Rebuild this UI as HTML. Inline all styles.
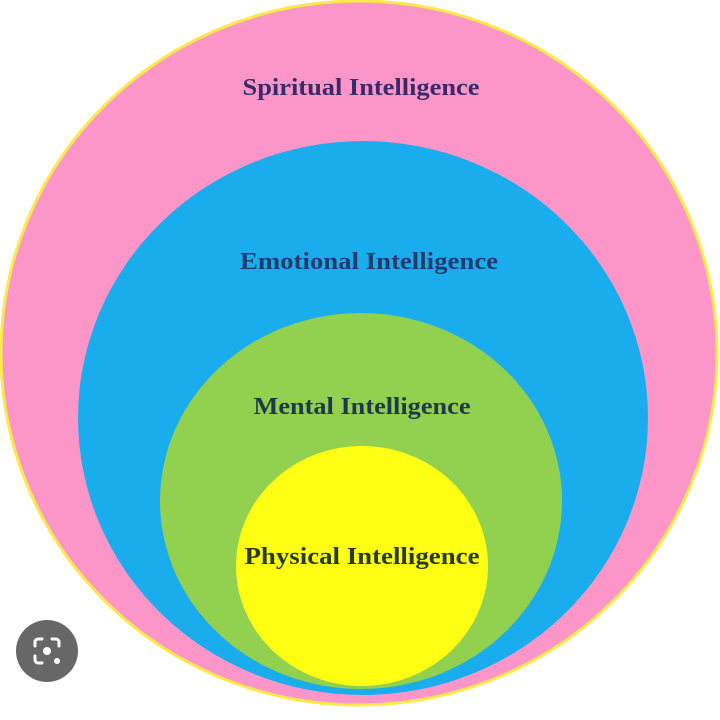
<!DOCTYPE html>
<html><head><style>
html,body{margin:0;padding:0;background:#fff;width:720px;height:720px;overflow:hidden}
</style></head><body>
<svg width="720" height="720" viewBox="0 0 720 720" xmlns="http://www.w3.org/2000/svg">
<ellipse cx="359" cy="353" rx="358" ry="352" fill="#fd96c8" stroke="#f9ea4a" stroke-width="3"/>
<ellipse cx="363" cy="418" rx="285" ry="277" fill="#1aadee"/>
<ellipse cx="361" cy="501" rx="201" ry="188" fill="#92d050"/>
<ellipse cx="362" cy="566" rx="126" ry="120" fill="#ffff14"/>
<g font-family="Liberation Serif, serif" font-weight="bold" font-size="24" text-anchor="middle">
<text x="361" y="95" fill="#3a2a6a" textLength="237" lengthAdjust="spacingAndGlyphs">Spiritual Intelligence</text>
<text x="369" y="269" fill="#1f3a6e" textLength="258" lengthAdjust="spacingAndGlyphs">Emotional Intelligence</text>
<text x="362" y="414" fill="#1e3a4a" textLength="217" lengthAdjust="spacingAndGlyphs">Mental Intelligence</text>
<text x="362" y="564" fill="#2a3a1a" textLength="235" lengthAdjust="spacingAndGlyphs">Physical Intelligence</text>
</g>
<circle cx="47" cy="651" r="31" fill="#676767"/>
<g fill="none" stroke="#fff" stroke-width="3" stroke-linecap="round">
<path d="M35 646 v-4 a3 3 0 0 1 3 -3 h4"/>
<path d="M52 639 h4 a3 3 0 0 1 3 3 v4"/>
<path d="M35 656 v4 a3 3 0 0 0 3 3 h4"/>
</g>
<circle cx="47" cy="651" r="4" fill="#fff"/>
<circle cx="57" cy="661" r="3" fill="#fff"/>
</svg>
</body></html>
